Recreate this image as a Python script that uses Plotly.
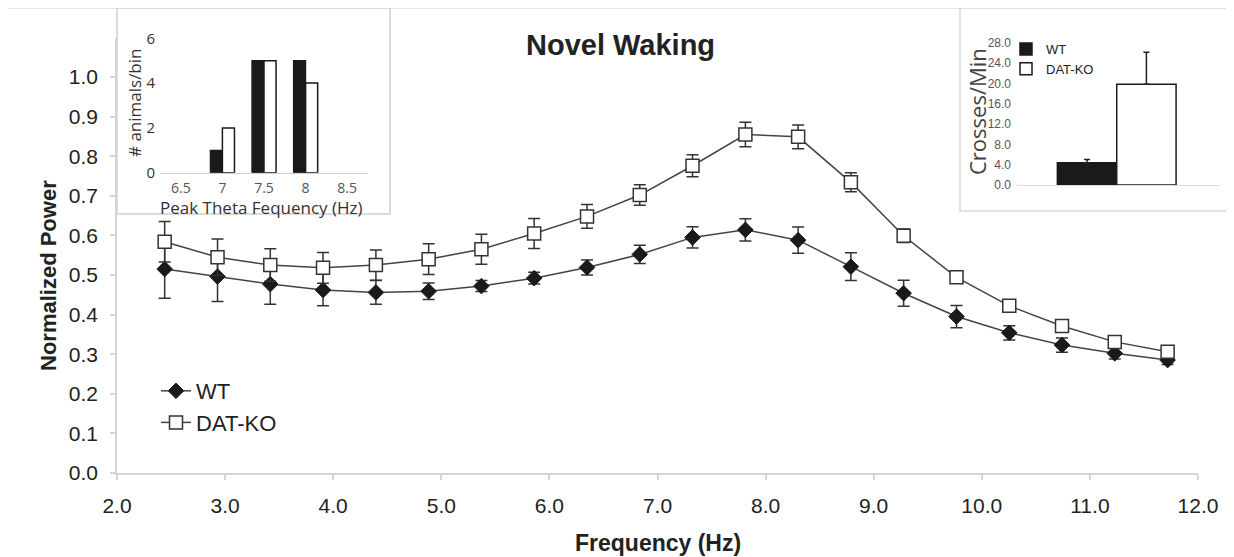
import plotly.graph_objects as go

# ---------------- data ----------------
freq_hz = [2.441, 2.930, 3.418, 3.906, 4.395, 4.883, 5.371, 5.859, 6.348, 6.836,
           7.324, 7.813, 8.301, 8.789, 9.277, 9.766, 10.254, 10.742, 11.230, 11.719]
wt_power = [0.515, 0.496, 0.477, 0.462, 0.456, 0.459, 0.472, 0.492, 0.519, 0.552,
            0.595, 0.614, 0.588, 0.521, 0.454, 0.395, 0.354, 0.323, 0.302, 0.285]
wt_err = [0.074, 0.063, 0.051, 0.040, 0.030, 0.021, 0.014, 0.015, 0.019, 0.023,
          0.027, 0.028, 0.033, 0.035, 0.033, 0.028, 0.018, 0.018, 0.014, 0.011]
ko_power = [0.584, 0.545, 0.525, 0.518, 0.525, 0.540, 0.565, 0.605, 0.648, 0.702,
            0.776, 0.855, 0.849, 0.734, 0.599, 0.494, 0.422, 0.371, 0.331, 0.306]
ko_err = [0.051, 0.046, 0.041, 0.039, 0.038, 0.039, 0.038, 0.038, 0.030, 0.026,
          0.028, 0.031, 0.030, 0.024, 0.017, 0.015, 0.012, 0.011, 0.010, 0.008]

hist_bins = [6.5, 7, 7.5, 8, 8.5]
hist_wt = [0, 1, 5, 5, 0]
hist_ko = [0, 2, 5, 4, 0]

cross_groups = ["WT", "DAT-KO"]
cross_mean = [4.4, 19.8]
cross_sem = [0.6, 6.3]

x_ticks = [2, 3, 4, 5, 6, 7, 8, 9, 10, 11, 12]
y_ticks = [0.0, 0.1, 0.2, 0.3, 0.4, 0.5, 0.6, 0.7, 0.8, 0.9, 1.0]

# ---------------- helpers ----------------
W, H = 1234, 557
OFF = 8  # page body margin offset
def px(p):
    return (p - OFF) / W
def py(p):
    return 1 - (p - OFF) / H

AX = "#d4d4d4"
TXT = "#222222"
ARIAL = "Liberation Sans, Arial, sans-serif"
MYRIAD = "Open Sans, Noto Sans, sans-serif"
NARROW = "Liberation Sans Narrow, Liberation Sans, sans-serif"

fig = go.Figure()

# main line traces
fig.add_trace(go.Scatter(
    x=freq_hz, y=wt_power, name="WT", mode="lines+markers",
    line=dict(color="#444444", width=1.5),
    marker=dict(symbol="diamond", size=12, color="#1a1a1a", line=dict(color="#1a1a1a", width=1)),
    error_y=dict(type="data", array=wt_err, color="#333333", thickness=1.5, width=6),
))
fig.add_trace(go.Scatter(
    x=freq_hz, y=ko_power, name="DAT-KO", mode="lines+markers",
    line=dict(color="#444444", width=1.5),
    marker=dict(symbol="square", size=13, color="white", line=dict(color="#333333", width=1.5)),
    error_y=dict(type="data", array=ko_err, color="#333333", thickness=1.5, width=6),
))

# left inset histogram (no outline for empty bins)
fig.add_trace(go.Bar(
    x=hist_bins, y=hist_wt, xaxis="x2", yaxis="y2", width=0.145, offset=-0.145,
    marker=dict(color="#1a1a1a", line=dict(color="#1a1a1a", width=[1.2 if v else 0 for v in hist_wt])),
    showlegend=False,
))
fig.add_trace(go.Bar(
    x=hist_bins, y=hist_ko, xaxis="x2", yaxis="y2", width=0.145, offset=0,
    marker=dict(color="white", line=dict(color="#1a1a1a", width=[1.5 if v else 0 for v in hist_ko])),
    showlegend=False,
))

# right inset crosses/min
fill = ["#1a1a1a", "white"]
for i, g in enumerate(cross_groups):
    fig.add_trace(go.Bar(
        x=[g], y=[cross_mean[i]], name=g, xaxis="x3", yaxis="y3", width=1.0,
        marker=dict(color=fill[i], line=dict(color="#1a1a1a", width=1.5)),
        error_y=dict(type="data", array=[cross_sem[i]], arrayminus=[0], symmetric=False,
                     color="#222222", thickness=1.5, width=3),
        legend="legend2",
    ))

shapes = [
    # outer frame (top, left, right)
    dict(type="line", xref="paper", yref="paper", x0=px(5), x1=px(1228), y0=py(8), y1=py(8),
         line=dict(color="#dcdcdc", width=1.5), layer="below"),
    dict(type="line", xref="paper", yref="paper", x0=px(5), x1=px(5), y0=py(8), y1=py(540),
         line=dict(color="#dcdcdc", width=1.5), layer="below"),
    dict(type="line", xref="paper", yref="paper", x0=px(1228), x1=px(1228), y0=py(8), y1=py(540),
         line=dict(color="#dcdcdc", width=1.5), layer="below"),
    # left inset frame
    dict(type="rect", xref="paper", yref="paper", x0=px(117), x1=px(390), y0=py(214), y1=py(8),
         fillcolor="white", line=dict(color="#d0d0d0", width=1.5), layer="below"),
    # right inset frame
    dict(type="rect", xref="paper", yref="paper", x0=px(960), x1=px(1240), y0=py(211), y1=py(8),
         fillcolor="white", line=dict(color="#d8d8d8", width=1.5), layer="below"),
]

def ann(text, x, y, size, family, color=TXT, angle=0):
    return dict(text=text, x=px(x), y=py(y), xref="paper", yref="paper", xanchor="center",
                yanchor="middle", showarrow=False, textangle=angle,
                font=dict(family=family, size=size, color=color))

annotations = [
    ann("<b>Novel Waking</b>", 620, 45, 29, ARIAL),
    ann("<b>Normalized Power</b>", 48, 276, 22, ARIAL, angle=-90),
    ann("<b>Frequency (Hz)</b>", 658, 543, 23, ARIAL),
    ann("# animals/bin", 135, 103, 17, MYRIAD, "#333", -90),
    ann("Peak Theta Fequency (Hz)", 261, 207, 17, MYRIAD, "#333"),
    ann("Crosses/Min", 977, 112, 22, MYRIAD, "#444", -90),
]

fig.update_layout(
    width=W, height=H,
    margin=dict(l=0, r=0, t=0, b=0, autoexpand=False),
    paper_bgcolor="white", plot_bgcolor="rgba(0,0,0,0)",
    barmode="overlay",
    shapes=shapes, annotations=annotations,
    xaxis=dict(domain=[px(117), px(1198)], range=[2, 12], tickvals=x_ticks, ticktext=[f"{v:.1f}" for v in x_ticks],
               automargin=False,
               showgrid=False, zeroline=False, showline=True, linecolor=AX, linewidth=1.5,
               ticks="outside", ticklen=5, tickcolor=AX, tickwidth=1.5, ticklabelstandoff=8,
               tickfont=dict(family=ARIAL, size=21, color=TXT)),
    yaxis=dict(domain=[py(472.9), py(37.5)], range=[0, 1.1], tickvals=y_ticks, ticktext=[f"{v:.1f}" for v in y_ticks],
               automargin=False,
               showgrid=False, zeroline=False, showline=True, linecolor=AX, linewidth=1.5,
               ticks="outside", ticklen=5, tickcolor=AX, tickwidth=1.5, ticklabelstandoff=8,
               tickfont=dict(family=ARIAL, size=21, color=TXT)),
    xaxis2=dict(domain=[px(160), px(368)], anchor="y2", range=[6.25, 8.75], tickvals=hist_bins,
                ticktext=["6.5", "7", "7.5", "8", "8.5"], automargin=False,
                showgrid=False, zeroline=False, showline=True, linecolor="#cfcfcf", linewidth=1.2,
                ticks="", ticklabelstandoff=2, tickfont=dict(family=MYRIAD, size=14, color="#555")),
    yaxis2=dict(domain=[py(172.7), py(38.3)], anchor="x2", range=[0, 6], tickvals=[0, 2, 4, 6],
                automargin=False,
                showgrid=False, zeroline=False, showline=False, ticks="", ticklabelstandoff=4,
                tickfont=dict(family=MYRIAD, size=15, color="#333")),
    xaxis3=dict(domain=[px(1017), px(1220)], anchor="y3", range=[-1.18, 2.24], type="category",
                automargin=False,
                showticklabels=False, showgrid=False, zeroline=False, showline=True,
                linecolor="#dddddd", linewidth=1.2, ticks=""),
    yaxis3=dict(domain=[py(185), py(42.7)], anchor="x3", range=[0, 28], tickvals=[0, 4, 8, 12, 16, 20, 24, 28],
                ticktext=["0.0", "4.0", "8.0", "12.0", "16.0", "20.0", "24.0", "28.0"],
                automargin=False,
                showgrid=False, zeroline=False, showline=False, ticks="", ticklabelstandoff=5,
                tickfont=dict(family=NARROW, size=12, color="#555")),
    legend=dict(x=px(156), y=py(370), xanchor="left", yanchor="top", bgcolor="rgba(0,0,0,0)",
                font=dict(family=ARIAL, size=22, color=TXT), tracegroupgap=0),
    legend2=dict(x=px(1006), y=py(34), xanchor="left", yanchor="top", bgcolor="rgba(0,0,0,0)",
                 font=dict(family=NARROW, size=13, color=TXT), tracegroupgap=0, itemwidth=30),
)

fig.write_html("out.html", config={"displayModeBar": False})
